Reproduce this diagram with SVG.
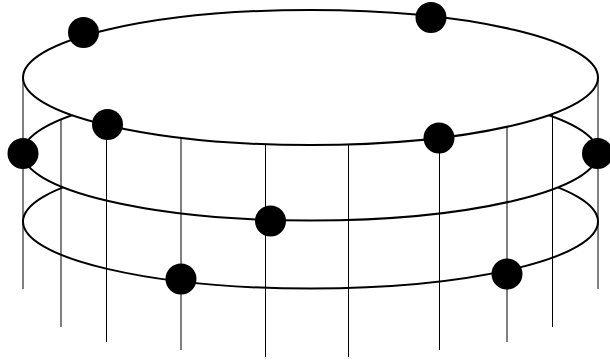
<svg xmlns="http://www.w3.org/2000/svg" width="610" height="360" viewBox="0 0 610 360">
<style>
.ring{fill:#fff;stroke:#000;stroke-width:2}
.post{stroke:#000;stroke-width:1;fill:none}
.dot{fill:#000}
</style>
<rect width="610" height="360" fill="#fff"/>
<g id="ring-bottom"><ellipse class="ring" cx="310.5" cy="221.5" rx="287.5" ry="67"/></g>
<g id="ring-middle"><ellipse class="ring" cx="310.5" cy="153" rx="287.5" ry="67.5"/></g>
<g id="connectors">
<line class="post" x1="23" y1="77.5" x2="23" y2="289"/>
<line class="post" x1="61" y1="120" x2="61" y2="327"/>
<line class="post" x1="106.5" y1="120" x2="106.5" y2="342"/>
<line class="post" x1="181" y1="120" x2="181" y2="350"/>
<line class="post" x1="265.5" y1="120" x2="265.5" y2="357"/>
<line class="post" x1="348.5" y1="120" x2="348.5" y2="357"/>
<line class="post" x1="439.5" y1="120" x2="439.5" y2="350"/>
<line class="post" x1="507" y1="120" x2="507" y2="342"/>
<line class="post" x1="552.5" y1="110" x2="552.5" y2="327"/>
<line class="post" x1="598" y1="77.5" x2="598" y2="289"/>
</g>
<g id="ring-top"><ellipse class="ring" cx="310.5" cy="77.5" rx="287.5" ry="67.5"/></g>
<g id="n1"><circle class="dot" cx="83.5" cy="32.5" r="15.5"/></g>
<g id="n2"><circle class="dot" cx="431" cy="17.5" r="15.5"/></g>
<g id="n3"><circle class="dot" cx="107.5" cy="124.5" r="15.5"/></g>
<g id="n4"><circle class="dot" cx="23" cy="153.5" r="15.5"/></g>
<g id="n5"><circle class="dot" cx="439" cy="138" r="15.5"/></g>
<g id="n6"><circle class="dot" cx="597.5" cy="153.5" r="15.5"/></g>
<g id="n7"><circle class="dot" cx="270.5" cy="221" r="15.5"/></g>
<g id="n8"><circle class="dot" cx="181" cy="279" r="15.5"/></g>
<g id="n9"><circle class="dot" cx="507" cy="274" r="15.5"/></g>
</svg>
